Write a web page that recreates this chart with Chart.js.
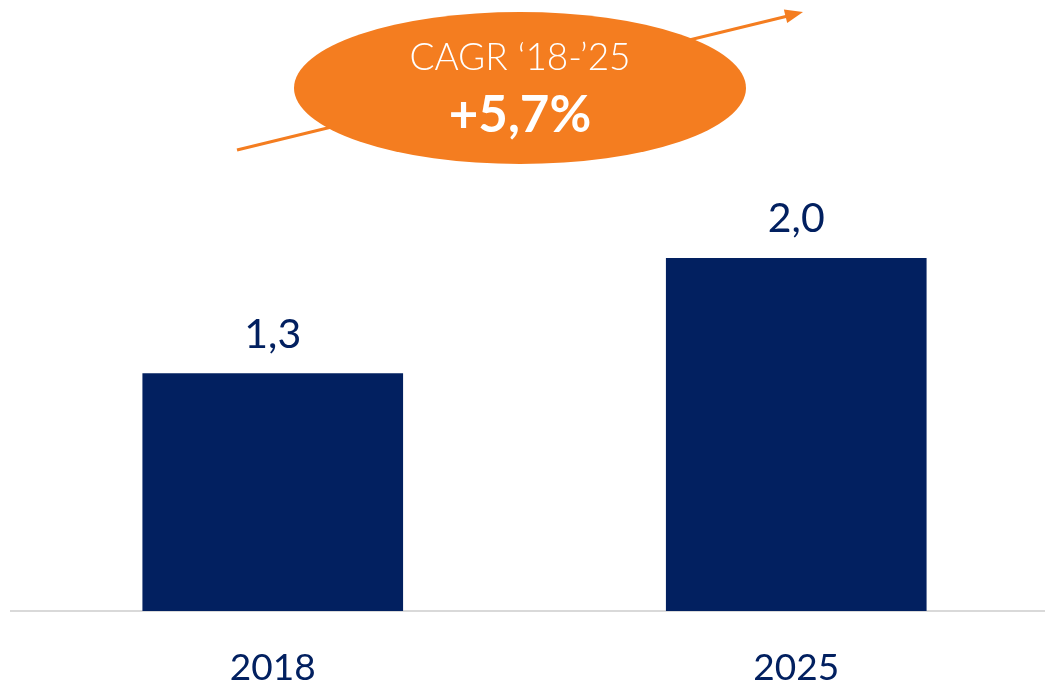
<!DOCTYPE html>
<html>
<head>
<meta charset="utf-8">
<script src="https://cdn.jsdelivr.net/npm/chart.js@4.4.0/dist/chart.umd.min.js"></script>
<style>
  body { margin: 0; background: #fff; overflow: hidden; }
</style>
</head>
<body>
<canvas id="chart" width="1058" height="685"></canvas>
<script>
const years = ["2018", "2025"];
const volumes = [1.34, 1.99];
const cagrTitle = "CAGR \u201818-\u201925";
const cagrValue = "+5,7%";

const navy = "#022060";
const orange = "#F47D20";

// value labels above bars, with comma decimals
const valueLabels = {
  id: "valueLabels",
  afterDatasetsDraw(chart) {
    const ctx = chart.ctx;
    const meta = chart.getDatasetMeta(0);
    ctx.save();
    ctx.fillStyle = navy;
    ctx.font = "41px Lato";
    ctx.textAlign = "center";
    ctx.textBaseline = "alphabetic";
    meta.data.forEach((bar, i) => {
      const txt = volumes[i].toFixed(1).replace(".", ",");
      ctx.fillText(txt, bar.x, bar.y - 26);
    });
    ctx.restore();
  },
};

// orange growth arrow + ellipse badge
const cagrBadge = {
  id: "cagrBadge",
  afterDraw(chart) {
    const ctx = chart.ctx;
    ctx.save();
    ctx.strokeStyle = orange;
    ctx.fillStyle = orange;
    ctx.lineWidth = 3;
    ctx.beginPath();
    ctx.moveTo(237, 150);
    ctx.lineTo(792, 15);
    ctx.stroke();
    // arrow head
    const ang = Math.atan2(12 - 150, 803 - 237);
    ctx.beginPath();
    ctx.moveTo(803, 12);
    ctx.lineTo(803 - 18 * Math.cos(ang) + 7 * Math.sin(ang), 12 - 18 * Math.sin(ang) - 7 * Math.cos(ang));
    ctx.lineTo(803 - 18 * Math.cos(ang) - 7 * Math.sin(ang), 12 - 18 * Math.sin(ang) + 7 * Math.cos(ang));
    ctx.closePath();
    ctx.fill();

    ctx.beginPath();
    ctx.ellipse(520, 88, 226, 76, 0, 0, Math.PI * 2);
    ctx.fill();

    ctx.fillStyle = "#ffffff";
    ctx.textAlign = "center";
    ctx.textBaseline = "middle";
    ctx.font = "300 37px Lato";
    ctx.fillText(cagrTitle, 520, 58);
    ctx.font = "bold 51px Lato";
    ctx.fillText(cagrValue, 520, 116);
    ctx.restore();
  },
};

const chart = new Chart(document.getElementById("chart"), {
  type: "bar",
  data: {
    labels: years,
    datasets: [
      {
        data: volumes,
        backgroundColor: navy,
        barThickness: 260,
      },
    ],
  },
  options: {
    responsive: false,
    animation: false,
    layout: { padding: { top: 168, left: 11, right: 0, bottom: 0 } },
    plugins: {
      legend: { display: false },
      tooltip: { enabled: false },
    },
    scales: {
      x: {
        grid: { display: false, drawTicks: false },
        border: { display: true, color: "#D9D9D9", width: 2 },
        ticks: {
          color: navy,
          font: { family: "Lato", size: 37, lineHeight: 1 },
          padding: 39,
        },
        afterFit(scale) {
          scale.height = 74;
        },
      },
      y: {
        display: false,
        min: 0,
        max: 2.5,
      },
    },
  },
  plugins: [valueLabels, cagrBadge],
});
</script>
</body>
</html>
